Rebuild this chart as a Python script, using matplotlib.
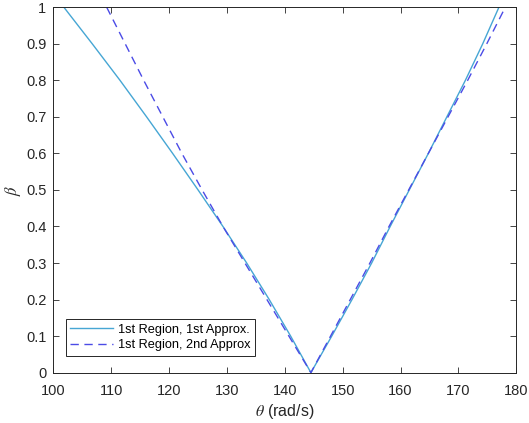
import matplotlib
matplotlib.use("Agg")
import matplotlib.pyplot as plt
import numpy as np

# beta levels where the curves were read
beta_levels = [0.0, 0.1, 0.2, 0.3, 0.4, 0.5, 0.6, 0.7, 0.8, 0.9, 1.0]

# 1st approx: theta on the left and right branch (rad/s)
theta_1st_left = [144.5, 141.0, 137.3, 133.4, 129.3, 125.0, 120.6, 116.1, 111.5, 106.7, 101.8]
theta_1st_right = [144.5, 148.1, 151.6, 155.0, 158.2, 161.5, 164.8, 168.0, 171.2, 174.2, 177.0]

# 2nd approx
theta_2nd_left = [144.5, 140.7, 136.9, 133.1, 129.3, 125.7, 122.2, 118.9, 115.6, 112.4, 109.2]
theta_2nd_right = [144.5, 147.9, 151.3, 154.7, 158.0, 161.4, 164.8, 168.2, 171.6, 174.9, 178.1]

x_ticks = [100, 110, 120, 130, 140, 150, 160, 170, 180]
y_ticks = [0, 0.1, 0.2, 0.3, 0.4, 0.5, 0.6, 0.7, 0.8, 0.9, 1]

plt.rcParams["font.family"] = ["Liberation Sans", "DejaVu Sans"]
plt.rcParams["mathtext.fontset"] = "stix"

axis_color = "#262626"
color_1st = "#46A6D4"
color_2nd = "#4B4BE6"

fig = plt.figure(figsize=(5.29, 4.23), dpi=100)
ax = fig.add_axes([0.101, 0.119, 0.875, 0.864])

# join both branches into one polyline through the vertex
theta_1st = theta_1st_left[::-1] + theta_1st_right[1:]
beta_1st = beta_levels[::-1] + beta_levels[1:]
theta_2nd = theta_2nd_left[::-1] + theta_2nd_right[1:]
beta_2nd = beta_levels[::-1] + beta_levels[1:]

ax.plot(theta_1st, beta_1st, "-", color=color_1st, linewidth=1.0,
        label="1st Region, 1st Approx.")
ax.plot(theta_2nd, beta_2nd, "--", color=color_2nd, linewidth=1.0,
        dashes=(6, 4), label="1st Region, 2nd Approx")

ax.set_xlim(100, 180)
ax.set_ylim(0, 1)
ax.set_xticks(x_ticks)
ax.set_yticks(y_ticks)
ax.set_yticklabels(["0", "0.1", "0.2", "0.3", "0.4", "0.5", "0.6", "0.7",
                    "0.8", "0.9", "1"])

ax.tick_params(direction="in", top=True, right=True, length=4, width=0.6,
               colors=axis_color, labelsize=10.5)
ax.tick_params(axis="x", pad=8)
ax.tick_params(axis="y", pad=5)
for spine in ax.spines.values():
    spine.set_color(axis_color)
    spine.set_linewidth(0.7)

ax.set_xlabel(r"$\theta$ (rad/s)", fontsize=11.5, color=axis_color, labelpad=3)
ax.set_ylabel(r"$\beta$", fontsize=12, color=axis_color, labelpad=2)

leg = ax.legend(loc="lower left", bbox_to_anchor=(0.027, 0.046), fontsize=9.2,
                frameon=True, fancybox=False, framealpha=1, borderpad=0.35,
                handlelength=3.3, handletextpad=0.4, labelspacing=0.3,
                borderaxespad=0)
leg.get_frame().set_edgecolor(axis_color)
leg.get_frame().set_linewidth(0.7)

fig.savefig("out.png", dpi=100)
